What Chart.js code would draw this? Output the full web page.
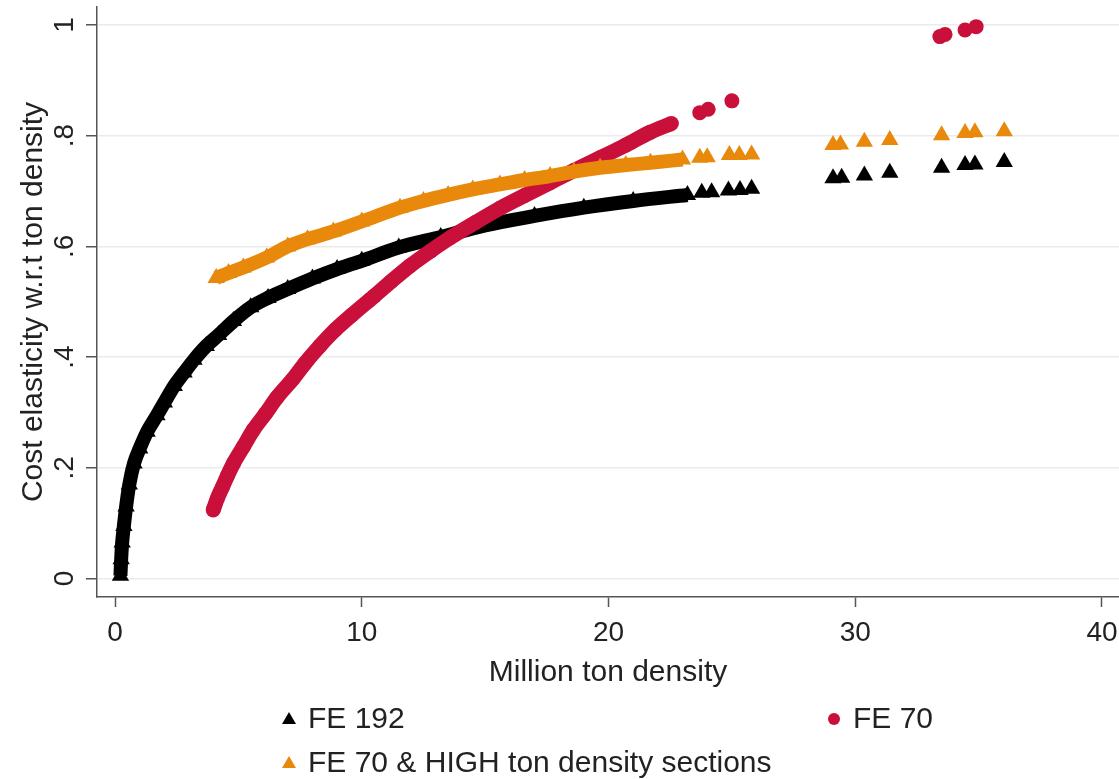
<!DOCTYPE html>
<html>
<head>
<meta charset="utf-8">
<title>Cost elasticity w.r.t ton density</title>
<script src="https://cdn.jsdelivr.net/npm/chart.js@4.4.1/dist/chart.umd.min.js"></script>
<style>
    html, body { margin: 0; padding: 0; background: #ffffff; overflow: hidden; }
    #wrap { width: 1119px; height: 779px; }
    canvas { display: block; }
</style>
</head>
<body>
<div id="wrap"><canvas id="elasticityChart" width="1119" height="779"></canvas></div>
<script>
// === DATA ===
const xTicks = [0, 10, 20, 30, 40];
const xTickLabels = ["0", "10", "20", "30", "40"];
const yTicks = [0, 0.2, 0.4, 0.6, 0.8, 1];
const yTickLabels = ["0", ".2", ".4", ".6", ".8", "1"];
const seriesLabels = ["FE 192", "FE 70", "FE 70 & HIGH ton density sections"];

// FE 192 - dense band
const fe192X = [0.22, 0.25, 0.29, 0.36, 0.45, 0.58, 0.77, 1.0, 1.3, 1.7, 2.0, 2.4, 2.8, 3.2, 3.7, 4.2, 4.8, 5.5, 6.2, 7.0, 8.0, 9.0, 10.0, 11.5, 13.2, 15.0, 17.0, 19.0, 21.0, 23.2];
const fe192Y = [0.005, 0.035, 0.065, 0.095, 0.13, 0.17, 0.208, 0.235, 0.265, 0.295, 0.318, 0.348, 0.372, 0.395, 0.42, 0.44, 0.465, 0.49, 0.507, 0.523, 0.542, 0.559, 0.574, 0.598, 0.617, 0.638, 0.655, 0.670, 0.682, 0.693];
// FE 192 - separate points
const fe192OutX = [23.78, 24.18, 24.86, 25.33, 25.8, 29.1, 29.45, 30.37, 31.4, 33.5, 34.45, 34.85, 36.04];
const fe192OutY = [0.697, 0.698, 0.701, 0.702, 0.704, 0.723, 0.724, 0.728, 0.733, 0.742, 0.747, 0.748, 0.7525];

// FE 70 - dense band
const fe70X = [3.98, 4.15, 4.35, 4.55, 4.8, 5.2, 5.6, 6.1, 6.58, 7.2, 7.7, 8.3, 8.92, 9.6, 10.5, 11.2, 11.96, 12.8, 13.6, 14.6, 15.6, 16.6, 17.63, 18.6, 19.66, 20.7, 21.68, 22.55];
const fe70Y = [0.124, 0.145, 0.165, 0.185, 0.208, 0.238, 0.268, 0.298, 0.328, 0.36, 0.389, 0.42, 0.449, 0.476, 0.510, 0.537, 0.565, 0.592, 0.616, 0.643, 0.669, 0.692, 0.715, 0.737, 0.760, 0.783, 0.806, 0.822];
// FE 70 - separate points
const fe70OutX = [23.7, 24.04, 25.0, 33.43, 33.64, 34.45, 34.9];
const fe70OutY = [0.8416, 0.8477, 0.863, 0.979, 0.983, 0.991, 0.997];

// FE 70 & HIGH - dense band
const feHighX = [4.1, 4.6, 5.2, 6.15, 7.0, 7.8, 8.85, 10.0, 11.55, 12.5, 13.5, 14.5, 15.6, 16.6, 17.63, 18.6, 19.66, 20.7, 21.7, 23.0];
const feHighY = [0.543, 0.552, 0.562, 0.580, 0.600, 0.613, 0.627, 0.645, 0.670, 0.682, 0.693, 0.703, 0.712, 0.720, 0.727, 0.735, 0.742, 0.747, 0.751, 0.757];
// FE 70 & HIGH - separate points
const feHighOutX = [23.7, 24.0, 24.9, 25.3, 25.8, 29.1, 29.4, 30.37, 31.4, 33.5, 34.45, 34.85, 36.04];
const feHighOutY = [0.760, 0.761, 0.765, 0.765, 0.766, 0.783, 0.784, 0.789, 0.792, 0.801, 0.805, 0.806, 0.808];

// === STYLE ===
const colBlack = "#000000";
const colRed = "#c9103a";
const colOrange = "#e8890c";
const axisColor = "#555555";
const textColor = "#222222";
const fontFamily = "'Liberation Sans', Arial, Helvetica, sans-serif";

function toPoints(xs, ys) {
    return xs.map((x, i) => ({ x: x, y: ys[i] }));
}

function band(data, color, style, radius, width, order) {
    return {
        data: data,
        showLine: true,
        borderColor: color,
        borderWidth: width,
        borderCapStyle: "butt",
        borderJoinStyle: "round",
        cubicInterpolationMode: "monotone",
        fill: false,
        pointStyle: style,
        pointRadius: radius,
        pointBackgroundColor: color,
        pointBorderWidth: 0,
        order: order,
    };
}

function dots(data, color, style, radius, order) {
    return {
        data: data,
        showLine: false,
        pointStyle: style,
        pointRadius: radius,
        pointBackgroundColor: color,
        pointBorderColor: color,
        pointBorderWidth: 0,
        order: order,
    };
}

// tick labels (y rotated, Stata style) + legend underneath
const stataExtras = {
    id: "stataExtras",
    afterDraw(chart) {
        const ctx = chart.ctx;
        const xScale = chart.scales.x;
        const yScale = chart.scales.y;
        const area = chart.chartArea;

        ctx.save();
        ctx.fillStyle = textColor;
        ctx.font = "28px " + fontFamily;
        ctx.textAlign = "center";
        ctx.textBaseline = "middle";
        yTicks.forEach((v, i) => {
            const py = yScale.getPixelForValue(v);
            ctx.save();
            ctx.translate(area.left - 32, py);
            ctx.rotate(-Math.PI / 2);
            ctx.fillText(yTickLabels[i], 0, 0);
            ctx.restore();
        });
        xTicks.forEach((v, i) => {
            ctx.fillText(xTickLabels[i], xScale.getPixelForValue(v), area.bottom + 36);
        });
        ctx.restore();

        // legend
        const items = [
            { label: seriesLabels[0], color: colBlack, style: "triangle", x: area.left + 192, y: chart.height - 60 },
            { label: seriesLabels[1], color: colRed, style: "circle", x: area.left + 737, y: chart.height - 60 },
            { label: seriesLabels[2], color: colOrange, style: "triangle", x: area.left + 192, y: chart.height - 16 },
        ];
        ctx.save();
        ctx.font = "30px " + fontFamily;
        ctx.textAlign = "left";
        ctx.textBaseline = "middle";
        items.forEach((it) => {
            ctx.fillStyle = it.color;
            ctx.beginPath();
            if (it.style === "circle") {
                ctx.arc(it.x, it.y, 6, 0, Math.PI * 2);
            } else {
                ctx.moveTo(it.x, it.y - 7);
                ctx.lineTo(it.x + 7, it.y + 5);
                ctx.lineTo(it.x - 7, it.y + 5);
                ctx.closePath();
            }
            ctx.fill();
            ctx.fillStyle = textColor;
            ctx.fillText(it.label, it.x + 19, it.y + 1);
        });
        ctx.restore();
    },
};

Chart.defaults.font.family = fontFamily;
Chart.defaults.color = textColor;

const ctx = document.getElementById("elasticityChart").getContext("2d");

new Chart(ctx, {
    type: "scatter",
    data: {
        datasets: [
            band(toPoints(fe192X, fe192Y), colBlack, "triangle", 10, 14, 3),
            dots(toPoints(fe192OutX, fe192OutY), colBlack, "triangle", 10, 3),
            band(toPoints(fe70X, fe70Y), colRed, "circle", 7.5, 15, 2),
            dots(toPoints(fe70OutX, fe70OutY), colRed, "circle", 7.5, 2),
            band(toPoints(feHighX, feHighY), colOrange, "triangle", 10, 14, 1),
            dots(toPoints(feHighOutX, feHighOutY), colOrange, "triangle", 10, 1),
        ],
    },
    options: {
        responsive: false,
        animation: false,
        events: [],
        // autoPadding would keep ~10px free for the big markers; plot runs to the edge here
        layout: { autoPadding: false, padding: { top: 7, right: 0, bottom: 82, left: 0 } },
        plugins: {
            legend: { display: false },
            tooltip: { enabled: false },
        },
        scales: {
            x: {
                type: "linear",
                min: -0.73,
                max: 40.69,
                afterBuildTicks: (scale) => {
                    scale.ticks = xTicks.map((v) => ({ value: v }));
                },
                afterFit: (scale) => {
                    scale.height = 100;
                },
                grid: {
                    drawOnChartArea: false,
                    drawTicks: true,
                    tickLength: 10,
                    tickColor: axisColor,
                    tickWidth: 1.5,
                },
                border: { display: true, color: axisColor, width: 1.5 },
                // labels are drawn by the plugin
                ticks: { display: false },
                title: {
                    display: true,
                    text: "Million ton density",
                    font: { size: 30 },
                    color: textColor,
                    padding: { top: 0, bottom: 6 },
                },
            },
            y: {
                type: "linear",
                min: -0.0334,
                max: 1.0325,
                afterBuildTicks: (scale) => {
                    scale.ticks = yTicks.map((v) => ({ value: v }));
                },
                afterFit: (scale) => {
                    scale.width = 97;
                },
                grid: {
                    color: "#ebebeb",
                    lineWidth: 1.5,
                    drawTicks: true,
                    tickLength: 11,
                    tickColor: axisColor,
                    tickWidth: 1.5,
                },
                border: { display: true, color: axisColor, width: 1.5 },
                ticks: { display: false },
                title: {
                    display: true,
                    text: "Cost elasticity w.r.t ton density",
                    font: { size: 30 },
                    color: textColor,
                    padding: { top: 16, bottom: 0 },
                },
            },
        },
    },
    plugins: [stataExtras],
});
</script>
</body>
</html>
